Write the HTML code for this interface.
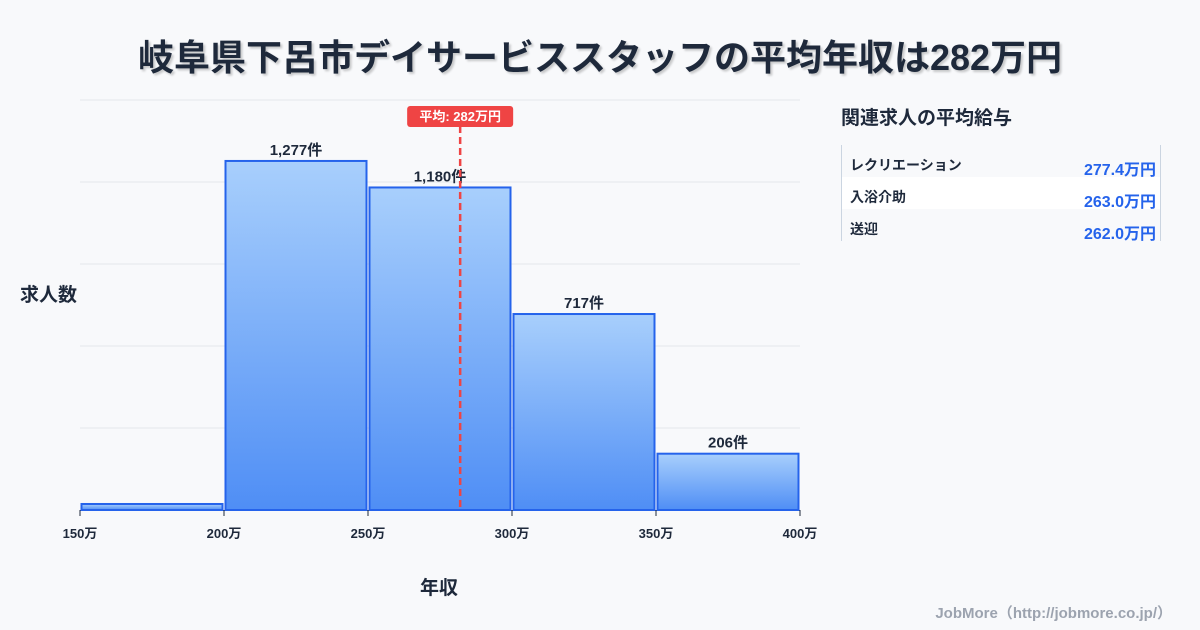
<!DOCTYPE html>
<html><head><meta charset="utf-8"><style>
body{margin:0;width:1200px;height:630px;background:#f8f9fb;font-family:"Liberation Sans","Noto Sans CJK JP",sans-serif;overflow:hidden;position:relative}
.t{position:absolute;white-space:nowrap}
</style></head><body>
<div class="t" style="left:0;width:1200px;top:29px;text-align:center;font-size:36px;font-weight:bold;color:#1e293b;text-shadow:2px 2px 2px rgba(0,0,0,0.2)">岐阜県下呂市デイサービススタッフの平均年収は282万円</div>
<div class="t" style="left:20px;top:280px;font-size:19px;font-weight:bold;color:#1e293b">求人数</div>
<div class="t" style="left:420px;top:573px;font-size:19px;font-weight:bold;color:#1e293b">年収</div>
<svg id="chart" width="1200" height="630" style="position:absolute;left:0;top:0">
<defs><linearGradient id="g" x1="0" y1="0" x2="0" y2="1"><stop offset="0" stop-color="#a8cffc"/><stop offset="1" stop-color="#4f8ef5"/></linearGradient></defs>
</svg>
<div class="t" style="left:841px;top:103px;font-size:19px;font-weight:bold;color:#1e293b">関連求人の平均給与</div>
<div style="position:absolute;left:841px;top:145px;width:318px;height:96px;border-left:1px solid #cbd5e1;border-right:1px solid #cbd5e1">
<div style="height:32px;position:relative"><span class="t" style="left:8px;top:10px;font-size:14px;font-weight:bold;color:#1e293b">レクリエーション</span><span class="t" style="right:4px;top:11px;font-size:16px;font-weight:bold;color:#2563eb">277.4万円</span></div>
<div style="height:32px;position:relative;background:#fff"><span class="t" style="left:8px;top:10px;font-size:14px;font-weight:bold;color:#1e293b">入浴介助</span><span class="t" style="right:4px;top:11px;font-size:16px;font-weight:bold;color:#2563eb">263.0万円</span></div>
<div style="height:32px;position:relative"><span class="t" style="left:8px;top:10px;font-size:14px;font-weight:bold;color:#1e293b">送迎</span><span class="t" style="right:4px;top:11px;font-size:16px;font-weight:bold;color:#2563eb">262.0万円</span></div>
</div>
<div class="t" style="right:28px;top:602px;font-size:15px;font-weight:bold;color:#9ca3af">JobMore（http://jobmore.co.jp/）</div>
<script>
const binEdges=[150,200,250,300,350,400];
const counts=[22,1277,1180,717,206];
const countLabels=["","1,277件","1,180件","717件","206件"];
const avgValue=282;
const avgLabel="平均: 282万円";
const yMax=1500, yTicks=[0,300,600,900,1200,1500];
const L=80,R=800,T=100,B=510;
const xs=v=>L+(v-150)/(400-150)*(R-L);
const ys=v=>B-v/yMax*(B-T);
const s=document.getElementById('chart');const NS='http://www.w3.org/2000/svg';
function mk(t,a,p){const e=document.createElementNS(NS,t);for(const k in a)e.setAttribute(k,a[k]);(p||s).appendChild(e);return e;}
yTicks.forEach(v=>{const e=mk('line',{x1:L,x2:R,y1:ys(v),y2:ys(v),stroke:'#e5e7eb','stroke-width':1});

});
counts.forEach((c,i)=>{const x1=xs(binEdges[i])+1.5,x2=xs(binEdges[i+1])-1.5;
const r=mk('rect',{x:x1,y:ys(c),width:x2-x1,height:B-ys(c),fill:'url(#g)',stroke:'#2563eb','stroke-width':2});


if(countLabels[i]){const t=mk('text',{x:(x1+x2)/2,y:ys(c)-6,'text-anchor':'middle','font-size':15,'font-weight':'bold',fill:'#1e293b'});t.textContent=countLabels[i];

}});
binEdges.forEach(v=>{const l=mk('line',{x1:xs(v),x2:xs(v),y1:B,y2:B+6,stroke:'#1e293b'});


const t=mk('text',{x:xs(v),y:B+28,'text-anchor':'middle','font-size':13,'font-weight':'bold',fill:'#1e293b'});t.textContent=v+'万';

});
const ax=xs(avgValue);
const al=mk('line',{x1:ax,x2:ax,y1:126,y2:B,stroke:'#ef4444','stroke-width':2.5,'stroke-dasharray':'7,4'});


const ab=mk('rect',{x:ax-53,y:106,width:106,height:21,rx:3,fill:'#ef4444'});


const at=mk('text',{x:ax,y:121,'text-anchor':'middle','font-size':13,'font-weight':'bold',fill:'#fff'});at.textContent=avgLabel;


</script>
</body></html>
